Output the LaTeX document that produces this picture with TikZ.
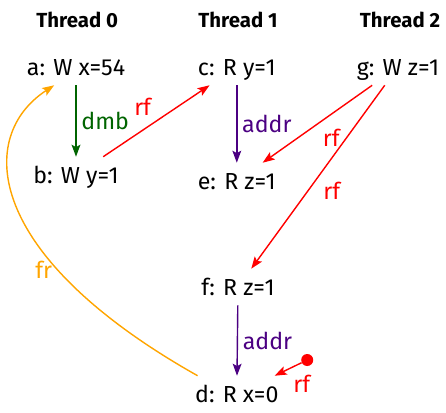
\documentclass[tikz,border=0pt]{standalone}
\usepackage{fontspec}
\setmainfont{Fira Sans}
\usetikzlibrary{arrows.meta,positioning}
\definecolor{mmred}{HTML}{FF0000}
\definecolor{mmgreen}{HTML}{006400}
\definecolor{mmindigo}{HTML}{4B0082}
\definecolor{mmorange}{HTML}{FFA500}
\tikzset{
  evtNode/.style={font=\fontsize{16.5}{20}\selectfont, anchor=base, text height=0.4cm, text depth=0pt, inner ysep=0.25cm, inner xsep=2pt},
  hdrNode/.style={font=\fontsize{14.5}{18}\selectfont\bfseries, anchor=base},
  dotNode/.style={circle, fill=mmred, inner sep=0pt, minimum size=0.3cm},
  relArrow/.style={-{Stealth[length=3mm, width=2.2mm, inset=0.6mm]}, line width=1pt, font=\fontsize{16.5}{20}\selectfont},
  dmbArrow/.style={relArrow, color=mmgreen},
  addrArrow/.style={relArrow, color=mmindigo},
  rfArrow/.style={relArrow, color=mmred},
  frArrow/.style={relArrow, color=mmorange}
}
\begin{document}
\begin{tikzpicture}
  \useasboundingbox (0,0) rectangle (11.15,-10.3);
  % threads
  \node[hdrNode] (t0) at (1.93,-0.675) {Thread 0};
  \node[hdrNode] (t1) at (5.95,-0.675) {Thread 1};
  \node[hdrNode] (t2) at (10.0,-0.675) {Thread 2};
  % events
  \node[evtNode] (a) at (1.9,-1.875) {a: W x=54};
  \node[evtNode] (b) at (1.9,-4.575) {b: W y=1};
  \node[evtNode] (c) at (5.92,-1.875) {c: R y=1};
  \node[evtNode] (e) at (5.92,-4.725) {e: R z=1};
  \node[evtNode] (g) at (9.95,-1.875) {g: W z=1};
  \node[evtNode] (f) at (5.95,-7.375) {f: R z=1};
  \node[evtNode] (d) at (5.92,-10.05) {d: R x=0};
  \node[dotNode] (init) at (7.68,-9.0) {};
  % relations
  \draw[dmbArrow] (a) -- node[right] {dmb} (b);
  \foreach \s/\t in {c/e,f/d} \draw[addrArrow] (\s) -- node[right] {addr} (\t);
  \foreach \s/\t/\an in {b/c/south east,g/e/north west,g/f/north west,init/d/north west}
    \draw[rfArrow] (\s) -- node[anchor=\an] {rf} (\t);
  \draw[frArrow] (d.155) .. controls (-0.41,-6.38) and (-0.6,-3.4) .. node[pos=0.3, left] {fr} (a.220);
\end{tikzpicture}
\end{document}
